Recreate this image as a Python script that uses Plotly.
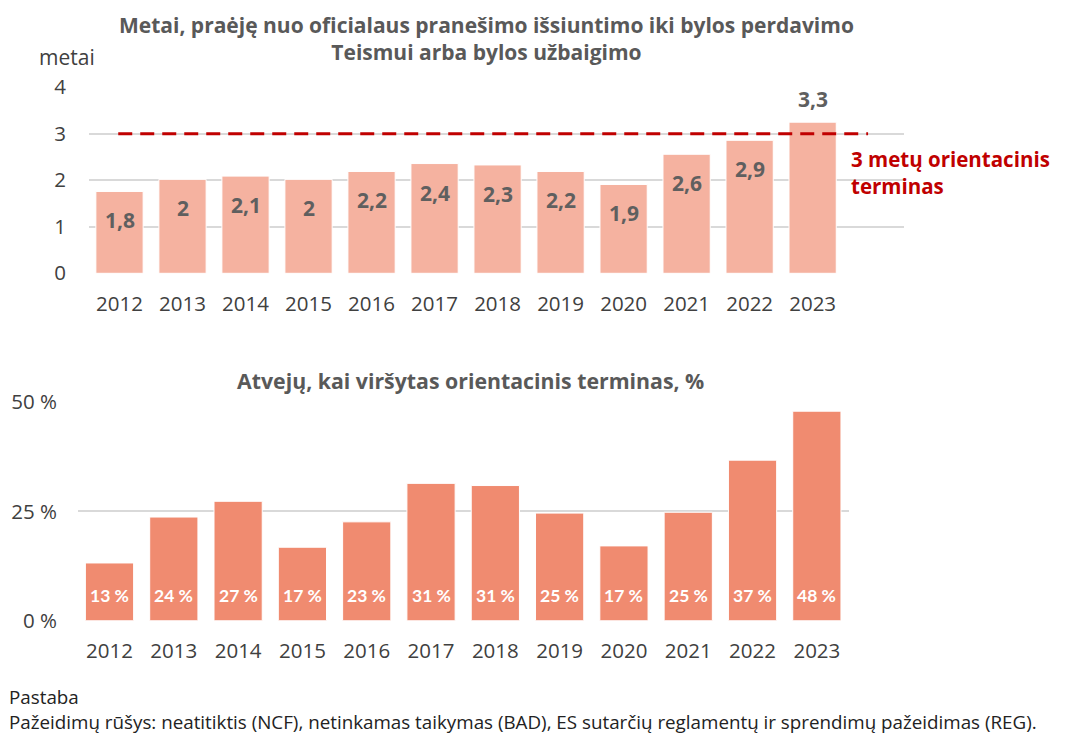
import plotly.graph_objects as go

# duomenys
years = ['2012', '2013', '2014', '2015', '2016', '2017', '2018', '2019', '2020', '2021', '2022', '2023']
metai = [1.76, 2.02, 2.09, 2.02, 2.19, 2.36, 2.33, 2.19, 1.91, 2.56, 2.86, 3.25]
metai_txt = ['1,8', '2', '2,1', '2', '2,2', '2,4', '2,3', '2,2', '1,9', '2,6', '2,9', '3,3']
virsyta = [13.2, 23.7, 27.3, 16.8, 22.6, 31.4, 30.9, 24.6, 17.1, 24.8, 36.7, 47.9]
virsyta_txt = ['13 %', '24 %', '27 %', '17 %', '23 %', '31 %', '31 %', '25 %', '17 %', '25 %', '37 %', '48 %']
terminas = 3

W, H = 1067, 736
OFF = 8  # puslapio body margin
FONT = 'Open Sans'
GRID = '#D9D9D9'
TICK = '#404040'
TITLE = '#595959'


def px(x):
    return (x - OFF) / W


def py(y):
    return 1 - (y - OFF) / H


fig = go.Figure()

# virsutinis grafikas
fig.add_trace(go.Bar(x=years, y=metai, marker_color='#F5B2A0',
                     marker_line=dict(color='white', width=1),
                     width=0.75, xaxis='x', yaxis='y', hoverinfo='skip'))
# apatinis grafikas
fig.add_trace(go.Bar(x=years, y=virsyta, marker_color='#F08B70',
                     marker_line=dict(color='white', width=1),
                     width=0.75, xaxis='x2', yaxis='y2', hoverinfo='skip'))

ann = []
for i, (v, t) in enumerate(zip(metai, metai_txt)):
    last = i == len(metai) - 1
    ann.append(dict(x=i, y=v, xref='x', yref='y', text='<b>%s</b>' % t,
                    showarrow=False, yanchor='middle', yshift=23 if last else -29,
                    font=dict(family=FONT, size=21, color='#5F5F5F')))
for i, t in enumerate(virsyta_txt):
    ann.append(dict(x=i, y=0, xref='x2', yref='y2', text='<b>%s</b>' % t,
                    showarrow=False, yanchor='middle', yshift=25,
                    font=dict(family='Lato', size=17.5, color='white')))

ann += [
    dict(x=px(486), y=py(38), xref='paper', yref='paper', xanchor='center', yanchor='middle',
         text='<b>Metai, praėję nuo oficialaus pranešimo išsiuntimo iki bylos perdavimo<br>Teismui arba bylos užbaigimo</b>',
         showarrow=False, font=dict(family=FONT, size=21, color=TITLE)),
    dict(x=px(37), y=py(57), xref='paper', yref='paper', xanchor='left', yanchor='middle',
         text='metai', showarrow=False, font=dict(family=FONT, size=21, color=TICK)),
    dict(x=px(849), y=py(172), xref='paper', yref='paper', xanchor='left', yanchor='middle',
         text='<b>3 metų orientacinis<br>terminas</b>', align='left',
         showarrow=False, font=dict(family=FONT, size=20.5, color='#C00000')),
    dict(x=px(470), y=py(380), xref='paper', yref='paper', xanchor='center', yanchor='middle',
         text='<b>Atvejų, kai viršytas orientacinis terminas, %</b>',
         showarrow=False, font=dict(family=FONT, size=21.3, color=TITLE)),
    dict(x=px(7), y=py(697), xref='paper', yref='paper', xanchor='left', yanchor='middle',
         text='Pastaba', showarrow=False, font=dict(family=FONT, size=18.8, color='#222222')),
    dict(x=px(7), y=py(722), xref='paper', yref='paper', xanchor='left', yanchor='middle',
         text='Pažeidimų rūšys: neatitiktis (NCF), netinkamas taikymas (BAD), ES sutarčių reglamentų ir sprendimų pažeidimas (REG).',
         showarrow=False, font=dict(family=FONT, size=18.8, color='#222222')),
]

axis_common = dict(showline=False, zeroline=False, ticks='', fixedrange=True, automargin=False)

fig.update_layout(
    width=W, height=H, margin=dict(l=0, r=0, t=0, b=0, autoexpand=False),
    plot_bgcolor='white', paper_bgcolor='white', showlegend=False, bargap=0.25,
    font=dict(family=FONT, color=TICK),
    xaxis=dict(domain=[px(89), px(904)], range=[-0.484, 12.45], type='category',
               tickfont=dict(size=20.5, color=TICK), showgrid=False, anchor='y',
               ticklabelstandoff=16, **axis_common),
    yaxis=dict(domain=[py(273.3), py(87.3)], range=[0, 4], dtick=1,
               gridcolor=GRID, gridwidth=2, tickfont=dict(size=20.5, color=TICK),
               ticklabelstandoff=22, anchor='x', **axis_common),
    xaxis2=dict(domain=[px(78), px(849)], range=[-0.49, 11.5], type='category',
                tickfont=dict(size=20.5, color=TICK), showgrid=False, anchor='y2',
                ticklabelstandoff=16, **axis_common),
    yaxis2=dict(domain=[py(620.7), py(402)], range=[0, 50],
                tickvals=[0, 25, 50], ticktext=['0 %', '25 %', '50 %'],
                gridcolor=GRID, gridwidth=2, tickfont=dict(size=20.5, color=TICK),
                ticklabelstandoff=20, anchor='x2', **axis_common),
    annotations=ann,
    shapes=[
        dict(type='line', xref='x', yref='y', x0=-0.02, x1=11.88, y0=terminas, y1=terminas,
             line=dict(color='#C00000', width=3, dash='14px,8px')),
    ],
)

fig.write_html('out.html')
